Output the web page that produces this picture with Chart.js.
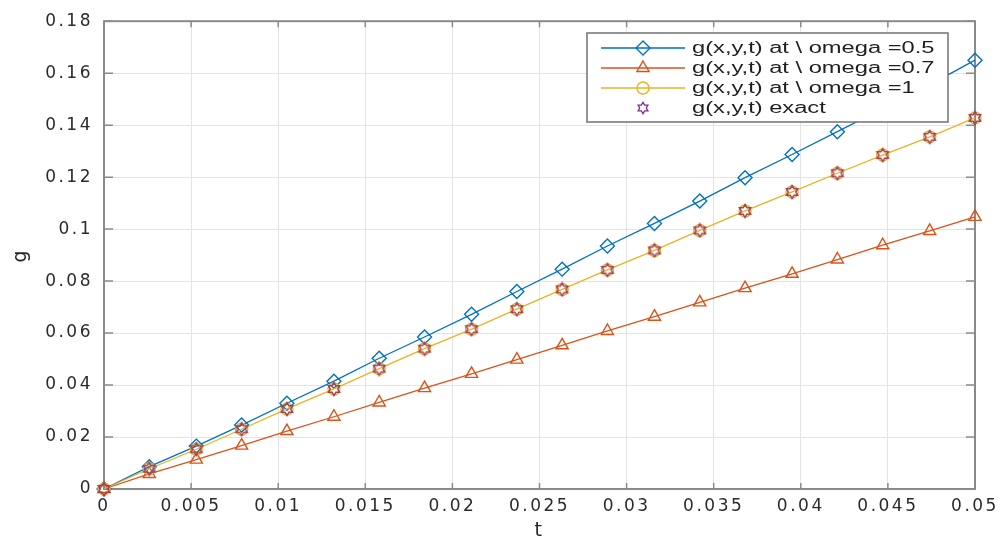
<!DOCTYPE html>
<html><head><meta charset="utf-8">
<script src="https://cdn.jsdelivr.net/npm/chart.js@4.4.1/dist/chart.umd.min.js"></script>
<style>html,body{margin:0;padding:0;background:#fff;}#wrap{width:1003px;height:542px;}</style>
</head><body><div id="wrap"><canvas id="c" width="1003" height="542"></canvas></div>
<script>
const tValues = [0, 0.0026, 0.0053, 0.0079, 0.0105, 0.0132, 0.0158, 0.0184, 0.0211, 0.0237, 0.0263, 0.0289, 0.0316, 0.0342, 0.0368, 0.0395, 0.0421, 0.0447, 0.0474, 0.05];
const gOmega05 = [0, 0.0086, 0.0165, 0.0246, 0.0330, 0.0415, 0.0503, 0.0585, 0.0672, 0.0760, 0.0846, 0.0935, 0.1022, 0.1108, 0.1198, 0.1287, 0.1375, 0.1463, 0.1555, 0.1650];
const gOmega07 = [0, 0.0058, 0.0113, 0.0167, 0.0223, 0.0278, 0.0333, 0.0388, 0.0443, 0.0498, 0.0553, 0.0608, 0.0663, 0.0718, 0.0773, 0.0828, 0.0883, 0.0938, 0.0993, 0.1047];
const gOmega1 = [0, 0.0078, 0.0153, 0.0230, 0.0308, 0.0385, 0.0463, 0.0540, 0.0615, 0.0692, 0.0768, 0.0843, 0.0918, 0.0995, 0.1070, 0.1143, 0.1215, 0.1285, 0.1355, 0.1428];
const gExact = [0, 0.0078, 0.0153, 0.0230, 0.0308, 0.0385, 0.0463, 0.0540, 0.0615, 0.0692, 0.0768, 0.0843, 0.0918, 0.0995, 0.1070, 0.1143, 0.1215, 0.1285, 0.1355, 0.1428];
const xTicks = [0, 0.005, 0.01, 0.015, 0.02, 0.025, 0.03, 0.035, 0.04, 0.045, 0.05];
const xTickLabels = ['0', '0.005', '0.01', '0.015', '0.02', '0.025', '0.03', '0.035', '0.04', '0.045', '0.05'];
const yTicks = [0, 0.02, 0.04, 0.06, 0.08, 0.1, 0.12, 0.14, 0.16, 0.18];
const yTickLabels = ['0', '0.02', '0.04', '0.06', '0.08', '0.1', '0.12', '0.14', '0.16', '0.18'];
const legendLabels = ['g(x,y,t) at \\ omega =0.5', 'g(x,y,t) at \\ omega =0.7', 'g(x,y,t) at \\ omega =1', 'g(x,y,t) exact'];
const xTitle = 't';
const yTitle = 'g';

const C_BLUE = '#0072BD', C_ORANGE = '#D95319', C_YELLOW = '#EDB120', C_PURPLE = '#7E2F8E', C_EXACT = '#a3405a';
const TICK_FONT = '"DejaVu Sans", Verdana, sans-serif';

function makeHexagram(size, color, lw) {
  const c = document.createElement('canvas');
  c.width = size; c.height = size;
  const g = c.getContext('2d');
  const cx = size / 2, cy = size / 2, R = size / 2 - lw, r = R / Math.sqrt(3);
  g.beginPath();
  for (let k = 0; k < 12; k++) {
    const ang = -Math.PI / 2 + k * Math.PI / 6;
    const rr = k % 2 === 0 ? R : r;
    const px = cx + rr * Math.cos(ang), py = cy + rr * Math.sin(ang);
    if (k === 0) g.moveTo(px, py); else g.lineTo(px, py);
  }
  g.closePath();
  g.strokeStyle = color; g.lineWidth = lw; g.stroke();
  return c;
}
const hexPlot = makeHexagram(16, C_EXACT, 1.5);
const hexLegend = makeHexagram(14, C_PURPLE, 1.3);

function pts(ys) { return tValues.map((t, i) => ({ x: t, y: ys[i] })); }

const boxPlugin = {
  id: 'boxPlugin',
  beforeDraw(chart) { chart.ctx.letterSpacing = '2.5px'; },
  beforeDatasetsDraw(chart) {
    const { ctx, chartArea: a, scales: { x, y } } = chart;
    ctx.save();
    ctx.strokeStyle = '#8a8a8a';
    ctx.lineWidth = 2;
    ctx.strokeRect(a.left, a.top, a.right - a.left, a.bottom - a.top);
    ctx.lineWidth = 1.5;
    ctx.beginPath();
    x.ticks.forEach(t => {
      const px = x.getPixelForValue(t.value);
      ctx.moveTo(px, a.bottom); ctx.lineTo(px, a.bottom - 6);
      ctx.moveTo(px, a.top); ctx.lineTo(px, a.top + 6);
    });
    y.ticks.forEach(t => {
      const py = y.getPixelForValue(t.value);
      ctx.moveTo(a.left, py); ctx.lineTo(a.left + 9, py);
      ctx.moveTo(a.right, py); ctx.lineTo(a.right - 9, py);
    });
    ctx.stroke();
    ctx.restore();
  },
  afterDraw(chart) {
    const ctx = chart.ctx;
    ctx.save();
    ctx.letterSpacing = '0px';
    const L = 587, T = 33, W = 361, H = 89;
    ctx.fillStyle = '#ffffff';
    ctx.fillRect(L, T, W, H);
    ctx.strokeStyle = '#7a7a7a';
    ctx.lineWidth = 1.6;
    ctx.strokeRect(L, T, W, H);
    const legendItems = [
      { color: C_BLUE, style: 'rectRot', r: 7, line: true },
      { color: C_ORANGE, style: 'triangle', r: 7, line: true },
      { color: C_YELLOW, style: 'circle', r: 6, line: true },
      { color: C_PURPLE, style: hexLegend, r: 7, line: false }
    ];
    legendItems.forEach((it, i) => {
      const yy = 48 + i * 20;
      if (it.line) {
        ctx.strokeStyle = it.color; ctx.lineWidth = 1.3;
        ctx.beginPath(); ctx.moveTo(601, yy); ctx.lineTo(685, yy); ctx.stroke();
      }
      ctx.strokeStyle = it.color; ctx.fillStyle = 'rgba(0,0,0,0)'; ctx.lineWidth = 1.4;
      Chart.helpers.drawPoint(ctx, { pointStyle: it.style, radius: it.r, rotation: 0, borderWidth: 1.4 }, 643, yy);
      ctx.save();
      ctx.translate(692, yy);
      ctx.scale(1.48, 1);
      ctx.font = '16px "Liberation Sans", Arial, sans-serif';
      ctx.textBaseline = 'middle';
      ctx.fillStyle = '#1f1f1f';
      ctx.fillText(legendLabels[i], 0, 1);
      ctx.restore();
    });
    ctx.restore();
  }
};

new Chart(document.getElementById('c'), {
  type: 'scatter',
  data: {
    datasets: [
      { label: legendLabels[0], data: pts(gOmega05), showLine: true, borderColor: C_BLUE, backgroundColor: 'rgba(0,0,0,0)', borderWidth: 1.3, pointStyle: 'rectRot', pointRadius: 7, pointBorderWidth: 1.4, pointBorderColor: C_BLUE, pointBackgroundColor: 'rgba(0,0,0,0)', order: 4, clip: false },
      { label: legendLabels[1], data: pts(gOmega07), showLine: true, borderColor: C_ORANGE, backgroundColor: 'rgba(0,0,0,0)', borderWidth: 1.3, pointStyle: 'triangle', pointRadius: 7, pointBorderWidth: 1.4, pointBorderColor: C_ORANGE, pointBackgroundColor: 'rgba(0,0,0,0)', order: 3, clip: false },
      { label: legendLabels[2], data: pts(gOmega1), showLine: true, borderColor: C_YELLOW, backgroundColor: 'rgba(0,0,0,0)', borderWidth: 1.3, pointStyle: 'circle', pointRadius: 6, pointBorderWidth: 1.4, pointBorderColor: C_YELLOW, pointBackgroundColor: 'rgba(0,0,0,0)', order: 2, clip: false },
      { label: legendLabels[3], data: pts(gExact), showLine: false, borderColor: C_EXACT, backgroundColor: 'rgba(0,0,0,0)', pointStyle: hexPlot, pointRadius: 7, order: 1, clip: false }
    ]
  },
  options: {
    responsive: false,
    devicePixelRatio: 1,
    animation: false,
    events: [],
    layout: { padding: { left: 0, right: 28, top: 15, bottom: 0 } },
    plugins: { legend: { display: false }, tooltip: { enabled: false } },
    scales: {
      x: {
        type: 'linear', min: 0, max: 0.05,
        afterBuildTicks: s => { s.ticks = xTicks.map(v => ({ value: v })); },
        afterFit: s => { s.height = 53; },
        ticks: { callback: (v, i) => xTickLabels[i], maxRotation: 0, autoSkip: false, padding: 7, color: '#2b2b2b', font: { family: TICK_FONT, size: 17 } },
        grid: { color: '#e4e4e4', lineWidth: 1, drawTicks: false },
        border: { display: false },
        title: { display: true, text: xTitle, color: '#262626', font: { family: TICK_FONT, size: 19 }, padding: { top: 0, bottom: 0 } }
      },
      y: {
        type: 'linear', min: 0, max: 0.18,
        afterBuildTicks: s => { s.ticks = yTicks.map(v => ({ value: v })); },
        afterFit: s => { s.width = 104; },
        ticks: { callback: (v, i) => yTickLabels[i], autoSkip: false, padding: 11, color: '#2b2b2b', font: { family: TICK_FONT, size: 17 } },
        grid: { color: '#e4e4e4', lineWidth: 1, drawTicks: false },
        border: { display: false },
        title: { display: true, text: yTitle, color: '#262626', font: { family: TICK_FONT, size: 19 }, padding: { top: 10, bottom: 0 } }
      }
    }
  },
  plugins: [boxPlugin]
});
</script></body></html>
